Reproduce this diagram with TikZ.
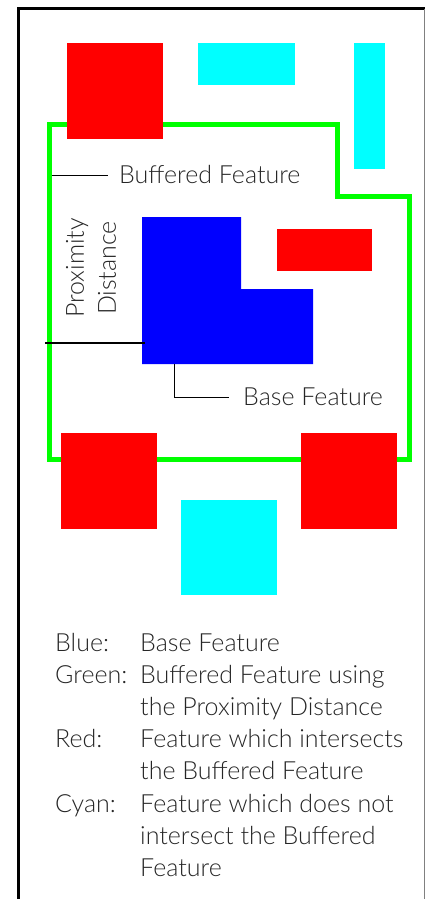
\documentclass[tikz,border=0pt]{standalone}
\usepackage{fontspec}
\setmainfont{Lato Light}
\definecolor{pureRed}{RGB}{255,0,0}
\definecolor{pureCyan}{RGB}{0,255,255}
\definecolor{pureBlue}{RGB}{0,0,255}
\definecolor{pureGreen}{RGB}{0,255,0}
\begin{document}
\begin{tikzpicture}[x=1pt,y=-1pt]
\tikzset{
  redf/.style={fill=pureRed},
  cyanf/.style={fill=pureCyan},
  bluef/.style={fill=pureBlue},
  buffer/.style={draw=pureGreen, line width=5pt},
  leader/.style={draw=black, line width=0.8pt},
  frame/.style={draw=black, line width=3pt},
  txt/.style={font=\fontsize{25}{32}\selectfont, text=black!85, inner sep=0pt},
  lbl/.style={txt, anchor=base west},
}
\useasboundingbox (0,0) rectangle (426,899);
% frame
\draw[frame] (18.5,899) -- (18.5,9) -- (425,9);
\draw[gray, line width=1pt] (424.5,9) -- (424.5,899);
% buffered feature outline
\draw[buffer] (49,124) -- (337,124) -- (337,196) -- (409,196) -- (409,459) -- (49,459) -- cycle;
% red (intersecting) features
\fill[redf] (67,43) rectangle (163,139);
\fill[redf] (277,229) rectangle (372,271);
\fill[redf] (61,433) rectangle (157,529);
\fill[redf] (301,433) rectangle (397,529);
% cyan (non-intersecting) features
\fill[cyanf] (198,43) rectangle (295,85);
\fill[cyanf] (354,43) rectangle (385,169);
\fill[cyanf] (181,500) rectangle (277,595);
% base feature
\fill[bluef] (142,217) -- (241,217) -- (241,289) -- (313,289) -- (313,364) -- (142,364) -- cycle;
% labels and leaders
\coordinate (bufL) at (52,175);
\node[txt, anchor=west, inner xsep=11pt] (buftxt) at (108,175) {Buffered Feature};
\draw[leader] (bufL) -- (buftxt.west);
\coordinate (blueBot) at (174,364);
\node[txt, anchor=west, inner xsep=14pt] (basetxt) at (229,397) {Base Feature};
\draw[leader] (blueBot) |- (basetxt.west);
\coordinate (greenL) at (45,343);
\coordinate (blueL) at (145,343);
\draw[line width=1.5pt] (greenL) -- (blueL);
\node[txt, rotate=90, align=center] (prox) at (91,268) {Proximity\\Distance};
% legend
\node[lbl] (k1) at (55,651) {Blue:};
\node[lbl] (v1) at (140,651) {Base Feature};
\node[lbl] (k2) at (55,683.2) {Green:};
\node[lbl] (v2) at (140,683.2) {Buffered Feature using};
\node[lbl] (v3) at (140,715.4) {the Proximity Distance};
\node[lbl] (k3) at (55,747.6) {Red:};
\node[lbl] (v4) at (140,747.6) {Feature which intersects};
\node[lbl] (v5) at (140,779.8) {the Buffered Feature};
\node[lbl] (k4) at (55,812) {Cyan:};
\node[lbl] (v6) at (140,812) {Feature which does not};
\node[lbl] (v7) at (140,844.2) {intersect the Buffered};
\node[lbl] (v8) at (140,876.4) {Feature};
\end{tikzpicture}
\end{document}
